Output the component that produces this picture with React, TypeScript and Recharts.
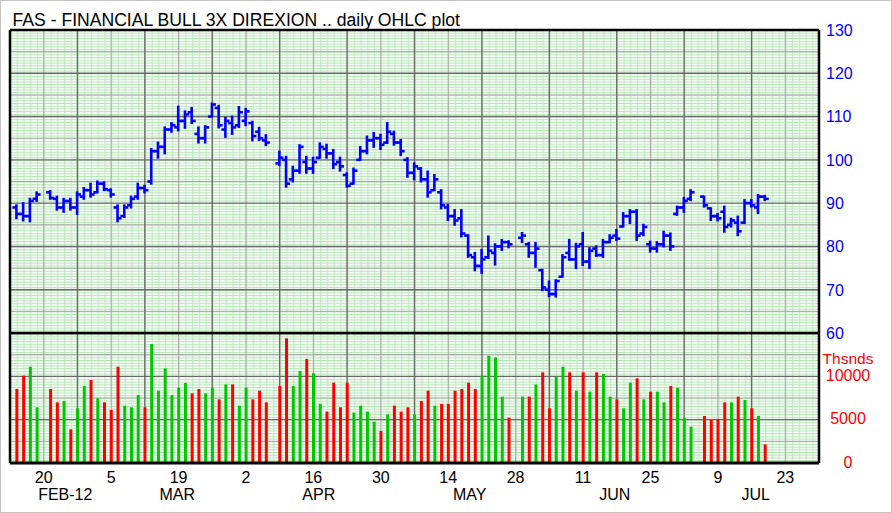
import React from 'react';
import { ComposedChart, Bar, Cell, XAxis, YAxis, CartesianGrid, ReferenceLine } from 'recharts';

// ---------- data ----------
const tradeDates = [
  '02-14','02-15','02-16','02-17','02-21','02-22','02-23','02-24','02-27','02-28','02-29',
  '03-01','03-02','03-05','03-06','03-07','03-08','03-09','03-12','03-13','03-14','03-15','03-16',
  '03-19','03-20','03-21','03-22','03-23','03-26','03-27','03-28','03-29','03-30',
  '04-02','04-03','04-04','04-05','04-09','04-10','04-11','04-12','04-13','04-16','04-17','04-18','04-19','04-20',
  '04-23','04-24','04-25','04-26','04-27','04-30',
  '05-01','05-02','05-03','05-04','05-07','05-08','05-09','05-10','05-11','05-14','05-15','05-16','05-17','05-18',
  '05-21','05-22','05-23','05-24','05-25','05-29','05-30','05-31',
  '06-01','06-04','06-05','06-06','06-07','06-08','06-11','06-12','06-13','06-14','06-15',
  '06-18','06-19','06-20','06-21','06-22','06-25','06-26','06-27','06-28','06-29',
  '07-02','07-03','07-05','07-06','07-09','07-10','07-11','07-12','07-13','07-16','07-17','07-18',
];

const opens = [
  89, 87.5, 87, 91, 92.5, 91, 89, 90.5, 89, 91.5, 93,
  92.5, 94.5, 93, 89, 87, 89.5, 91.5, 93.5, 95, 102, 103, 107,
  107.5, 109, 111, 106, 105, 110, 112, 107, 108.5, 108,
  109, 108.5, 106.5, 104.5, 99.2, 100, 95.5, 97.5, 99.5, 98, 100.5, 102.5, 101.5, 99.5,
  96.5, 94.5, 100, 102, 104.5, 105,
  104, 106, 104, 100, 97, 98, 95.5, 93, 92.5, 89, 87, 86.5, 82.5, 77.5,
  75.5, 77.5, 78.5, 80, 81, 82, 80.5, 78.5,
  74.5, 70, 69, 73, 78.5, 77, 80.5, 76.5, 79.5, 78, 81,
  82.5, 84.6, 87, 88, 83, 80.5, 79.5, 80.5, 82.5, 87.5,
  89, 91, 91.5, 88.8, 87, 88, 85, 85.5, 85.5, 90, 89, 91.5,
];
const highs = [
  89.5, 90, 91, 92.5, 92.8, 91.5, 91, 91, 92.5, 93.5, 94.5,
  95, 94.8, 93.2, 89.5, 89.5, 91.5, 94.5, 94, 102.5, 104, 107.5, 108.5,
  112.3, 111.2, 112, 107.5, 107.8, 113, 112.5, 109.7, 110, 112.2,
  111.8, 108.8, 107.4, 105.7, 101.9, 100.7, 98.4, 103.4, 100.7, 100.5, 103.8, 103.5, 102.3, 100.5,
  96.9, 98, 103, 105.4, 106.2, 105.8,
  108.5, 106.5, 104.6, 100.4, 99.2, 98.1, 97.3, 96.5, 93, 89.6, 88.4, 88.4, 82.6, 78.5,
  79.2, 82.3, 80.5, 81.5, 81.2, 83.1, 80.8, 80.8,
  74.6, 71.9, 72.2, 78, 81.5, 80.6, 83.1, 79.6, 80, 81.5, 82.6,
  83.8, 87.7, 88.4, 88.4, 85, 81.1, 81, 83.4, 83, 89.2,
  91.2, 93, 91.5, 88.8, 87.5, 89.2, 86.4, 86.9, 90.7, 90.7, 91.9, 91.7,
];
const lows = [
  86.5, 86, 85.8, 90.5, 91, 88.5, 88, 88.5, 87.5, 91, 91.5,
  92.5, 93, 91.5, 85.8, 86.8, 89, 91, 92.5, 94.5, 100.5, 101.5, 106.5,
  106.8, 107.4, 108.5, 104, 104, 110, 107.5, 105.3, 106, 107.6,
  108, 104.5, 104.6, 103.4, 98.8, 93.8, 95, 97, 97, 97, 100.5, 100.5, 98.1, 97.5,
  93.8, 94.5, 100, 101.5, 103, 102.5,
  103.9, 103.5, 101.1, 96.1, 95.5, 95, 91.5, 93, 88.8, 86.1, 85, 82.3, 77.6, 74.5,
  73.9, 77.3, 75.8, 79.2, 79.8, 81, 77.6, 75.3,
  69.9, 68.5, 68.4, 73, 76.9, 75, 75.7, 75, 77.8, 77.6, 81,
  81.5, 84.6, 85.4, 81.5, 82.6, 78.8, 78.8, 80, 79.2, 87.3,
  88, 90.7, 89.2, 86.1, 86, 83.4, 84.6, 82.6, 85.4, 89.2, 87.7, 90.7,
];
const closes = [
  87.5, 87, 90.5, 92, 91.2, 89, 90.5, 89, 92, 93, 92,
  94.5, 93.2, 92, 86.5, 89, 91, 93.5, 93, 102, 103, 107, 108,
  109, 110.5, 109, 105, 107.5, 112.8, 108, 109, 107.5, 111,
  111.2, 105.5, 105, 104, 100.5, 94.5, 97.5, 103, 98, 99.5, 103, 101.5, 99, 98.5,
  94, 97.5, 102, 104.5, 105, 103.5,
  106.5, 104, 102, 97, 98.5, 95.5, 92.5, 95.5, 89.5, 87, 86, 83, 78, 75.5,
  77, 79, 80, 81, 80.5, 82.5, 78.5, 79.5,
  70.5, 69, 72, 77.5, 77, 80, 76.5, 79, 78, 81, 82,
  81.8, 87, 88, 82.5, 84.5, 79.5, 80.5, 82.5, 80, 89,
  90.5, 92.5, 89.5, 87, 86.5, 84.5, 86, 83.5, 90, 89.5, 91.5, 91,
];
// volume in thousands of shares
const volumes = [
  8540, 10075, 11113, 6428, 8540, 7000, 7155, 3886, 6310, 8886, 9578,
  7463, 7000, 6117, 11113, 6615, 6428, 7847, 6428, 13733, 8347, 10924, 7847,
  8694, 9232, 8040, 8540, 8040, 8694, 7347, 9078, 9078, 6615,
  8694, 7347, 8347, 7000, 8886, 14386, 8886, 10617, 12000, 10348, 6810, 5925, 9270, 6428,
  9270, 5810, 6615, 5925, 4770, 3693,
  5616, 6615, 5925, 6428, 5616, 7155, 8347, 6615, 6810, 6810, 8347, 8540, 9270, 8540,
  10075, 12383, 12190, 7655, 5232, 7655, 7655, 9078,
  10463, 6310, 9963, 11113, 10463, 8347, 10463, 8232, 10463, 10270, 7655,
  7347, 6310, 9270, 9770, 7347, 8232, 8232, 7000, 8886, 8694,
  5232, 4193, 5425, 4963, 5078, 7000, 7000, 7655, 7270, 6310, 5425, 2155,
];
// 1 = close above previous close (green), 0 = below (red)
const volumeUp = [
  0, 0, 1, 1, 0, 0, 1, 0, 1, 1, 0,
  1, 0, 0, 0, 1, 1, 1, 0, 1, 1, 1, 1,
  1, 1, 0, 0, 1, 1, 0, 1, 0, 1,
  1, 0, 0, 0, 0, 0, 1, 1, 0, 1, 1, 0, 0, 0,
  0, 1, 1, 1, 1, 0,
  1, 0, 0, 0, 1, 0, 0, 1, 0, 0, 0, 0, 0, 0,
  1, 1, 1, 1, 0, 1, 0, 1,
  0, 0, 1, 1, 0, 1, 0, 1, 0, 1, 1,
  0, 1, 1, 0, 1, 0, 1, 1, 0, 1,
  1, 1, 0, 0, 0, 0, 1, 0, 1, 0, 1, 0,
];

const dayTicks = [5, 15, 25, 35, 45, 55, 65, 75, 85, 95, 105, 115];
const dayLabels = ['20', '5', '19', '2', '16', '30', '14', '28', '11', '25', '9', '23'];
const monthTicks = [8.2, 24.8, 45.8, 68.2, 89.7, 110.6];
const monthLabels = ['FEB-12', 'MAR', 'APR', 'MAY', 'JUN', 'JUL'];
const priceTicks = [60, 70, 80, 90, 100, 110, 120, 130];
const volumeTicks = [0, 5000, 10000];

const TITLE = 'FAS - FINANCIAL BULL 3X DIREXION .. daily OHLC plot';

// ---------- helpers ----------
const BASE = Date.UTC(2012, 1, 13);
const slotOf = (d: string) => {
  const [m, dd] = d.split('-').map(Number);
  const days = Math.round((Date.UTC(2012, m - 1, dd) - BASE) / 86400000);
  return Math.floor(days / 7) * 5 + (days % 7);
};

const rows = tradeDates.map((d, i) => ({
  slot: slotOf(d),
  range: [lows[i], highs[i]],
  open: opens[i],
  high: highs[i],
  low: lows[i],
  close: closes[i],
  vol: volumes[i],
  up: volumeUp[i] === 1,
}));

const FONT = "'Liberation Sans', Arial, sans-serif";
const W = 892;
const PLOT_L = 10;
const PLOT_R = 819;
const SLOT_W = (PLOT_R - PLOT_L) / 120;
const ROW_H = (303 / 70) * 5 / 8;
const BLUE = '#0000ff';
const RED = '#ff0000';
const GREEN = '#00c800';
const GRID_LIGHT = '#a6a6a6';
const GRID_DARK = '#6a6a6a';
const PAPER_H = '#b6e6b6';
const PAPER_V = '#c8eec8';

const OhlcShape = (props: any) => {
  const { x, y, width, height, payload } = props;
  if (x == null || y == null || !payload) return null;
  const top = Math.min(y, y + height);
  const h = Math.abs(height);
  const cx = x + width / 2;
  const span = payload.high - payload.low || 1;
  const yOf = (v: number) => top + ((payload.high - v) / span) * h;
  return (
    <g stroke={BLUE} strokeWidth={2.6} fill="none">
      <line x1={cx} x2={cx} y1={top - 1} y2={top + h + 1} />
      <line x1={cx - 4} x2={cx} y1={yOf(payload.open)} y2={yOf(payload.open)} />
      <line x1={cx} x2={cx + 4} y1={yOf(payload.close)} y2={yOf(payload.close)} />
    </g>
  );
};

const PriceTick = (props: any) => {
  const { x, y, payload } = props;
  return (
    <text x={x + 7} y={y} dy={5.8} fill={BLUE} fontSize={16} fontFamily={FONT} textAnchor="start">
      {payload.value}
    </text>
  );
};

const VolumeTick = (props: any) => {
  const { x, y, payload } = props;
  return (
    <g>
      {payload.value === 10000 && (
        <text x={x + 29} y={y - 16} dy={4} fill={RED} fontSize={15.5} fontFamily={FONT} textAnchor="middle">
          Thsnds
        </text>
      )}
      <text x={x + 29} y={y} dy={4.5} fill={RED} fontSize={16} fontFamily={FONT} textAnchor="middle">
        {payload.value}
      </text>
    </g>
  );
};

const DayTick = (props: any) => {
  const { x, y, payload } = props;
  const idx = dayTicks.indexOf(payload.value);
  return (
    <text x={x} y={y} dy={20} fill="#000" fontSize={16} fontFamily={FONT} textAnchor="middle">
      {dayLabels[idx]}
    </text>
  );
};

const MonthTick = (props: any) => {
  const { x, y, payload } = props;
  const idx = monthTicks.indexOf(payload.value);
  return (
    <text x={x} y={y} dy={19} fill="#000" fontSize={16} fontFamily={FONT} textAnchor="middle">
      {monthLabels[idx]}
    </text>
  );
};

const Paper = ({ id, y0 }: { id: string; y0: number }) => (
  <defs>
    <pattern id={id} patternUnits="userSpaceOnUse" x={PLOT_L} y={y0} width={SLOT_W} height={ROW_H}>
      <rect x={0} y={0} width={SLOT_W} height={ROW_H} fill="#ffffff" />
      <rect x={0} y={0} width={1.2} height={ROW_H} fill={PAPER_V} />
      <rect x={0} y={0} width={SLOT_W} height={1.1} fill={PAPER_H} />
    </pattern>
  </defs>
);

const vLight = [5, 15, 25, 35, 45, 55, 65, 75, 85, 95, 105, 115];
const vDark = [10, 20, 30, 40, 50, 60, 70, 80, 90, 100, 110];

export default function App() {
  return (
    <div style={{ position: 'fixed', left: 0, top: 0, width: W, height: 513, background: '#fff', overflow: 'hidden' }}>
      <svg width={W} height={32} style={{ position: 'absolute', left: 0, top: 0 }}>
        <text x={12.5} y={26} fontSize={17.6} fontFamily={FONT} fill="#000">
          {TITLE}
        </text>
      </svg>

      {/* volume panel (drawn first so the price panel's "60" label stays on top) */}
      <div style={{ position: 'absolute', left: 0, top: 323 }}>
        <ComposedChart width={W} height={190} data={rows} margin={{ top: 10, right: 0, bottom: 12, left: PLOT_L }}>
          <Paper id="paperBot" y0={10} />
          <XAxis
            xAxisId="d"
            dataKey="slot"
            type="number"
            domain={[0, 120]}
            ticks={dayTicks}
            interval={0}
            height={18}
            axisLine={false}
            tickLine={false}
            tickSize={0}
            tickMargin={0}
            tick={<DayTick />}
            allowDataOverflow
          />
          <XAxis
            xAxisId="m"
            dataKey="slot"
            type="number"
            domain={[0, 120]}
            ticks={monthTicks}
            interval={0}
            height={20}
            axisLine={false}
            tickLine={false}
            tickSize={0}
            tickMargin={0}
            tick={<MonthTick />}
            allowDataOverflow
          />
          <YAxis
            yAxisId="v"
            orientation="right"
            domain={[0, 15000]}
            ticks={volumeTicks}
            interval={0}
            width={W - PLOT_R}
            axisLine={false}
            tickLine={false}
            tickSize={0}
            tickMargin={0}
            tick={<VolumeTick />}
            allowDataOverflow
          />
          <CartesianGrid
            xAxisId="d"
            yAxisId="v"
            fill="url(#paperBot)"
            fillOpacity={1}
            stroke={GRID_LIGHT}
            verticalValues={vLight}
            horizontalValues={[2500, 7500, 12500]}
          />
          <CartesianGrid
            xAxisId="d"
            yAxisId="v"
            stroke={GRID_DARK}
            strokeWidth={1.4}
            verticalValues={vDark}
            horizontalValues={[5000, 10000]}
          />
          <Bar xAxisId="d" yAxisId="v" dataKey="vol" barSize={3} isAnimationActive={false}>
            {rows.map((r, i) => (
              <Cell key={i} fill={r.up ? GREEN : RED} />
            ))}
          </Bar>
          <ReferenceLine xAxisId="d" yAxisId="v" x={0} stroke="#000" strokeWidth={2.5} />
          <ReferenceLine xAxisId="d" yAxisId="v" x={120} stroke="#000" strokeWidth={2.5} />
          <ReferenceLine xAxisId="d" yAxisId="v" y={15000} stroke="#000" strokeWidth={2.5} />
          <ReferenceLine xAxisId="d" yAxisId="v" y={0} stroke="#000" strokeWidth={3} />
        </ComposedChart>
      </div>

      {/* price panel */}
      <div style={{ position: 'absolute', left: 0, top: 0, pointerEvents: 'none' }}>
        <ComposedChart width={W} height={350} data={rows} margin={{ top: 30, right: 0, bottom: 17, left: PLOT_L }}>
          <Paper id="paperTop" y0={30} />
          <XAxis xAxisId="d" dataKey="slot" type="number" domain={[0, 120]} allowDataOverflow hide />
          <YAxis
            yAxisId="p"
            orientation="right"
            domain={[60, 130]}
            ticks={priceTicks}
            interval={0}
            width={W - PLOT_R}
            axisLine={false}
            tickLine={false}
            tickSize={0}
            tickMargin={0}
            tick={<PriceTick />}
            allowDataOverflow
          />
          <CartesianGrid
            xAxisId="d"
            yAxisId="p"
            fill="url(#paperTop)"
            fillOpacity={1}
            stroke={GRID_LIGHT}
            verticalValues={vLight}
            horizontalValues={[65, 75, 85, 95, 105, 115, 125]}
          />
          <CartesianGrid
            xAxisId="d"
            yAxisId="p"
            stroke={GRID_DARK}
            strokeWidth={1.4}
            verticalValues={vDark}
            horizontalValues={[70, 80, 90, 100, 110, 120]}
          />
          <Bar xAxisId="d" yAxisId="p" dataKey="range" barSize={8} shape={<OhlcShape />} isAnimationActive={false} />
          <ReferenceLine xAxisId="d" yAxisId="p" x={0} stroke="#000" strokeWidth={2.5} />
          <ReferenceLine xAxisId="d" yAxisId="p" x={120} stroke="#000" strokeWidth={2.5} />
          <ReferenceLine xAxisId="d" yAxisId="p" y={130} stroke="#000" strokeWidth={2.5} />
          <ReferenceLine xAxisId="d" yAxisId="p" y={60} stroke="#000" strokeWidth={2.5} />
        </ComposedChart>
      </div>

      <div style={{ position: 'absolute', left: 0, top: 0, width: W, height: 513, boxSizing: 'border-box', border: '1px solid #c4c4c4', pointerEvents: 'none' }} />
    </div>
  );
}
